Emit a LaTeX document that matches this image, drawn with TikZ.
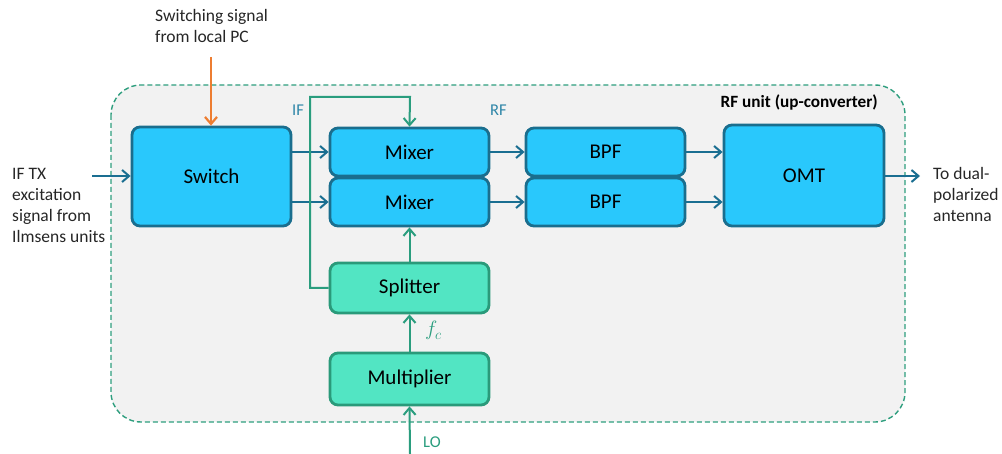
\documentclass[tikz,border=0pt]{standalone}
\usepackage{fontspec}
\setmainfont{Carlito}
\usetikzlibrary{arrows.meta}
\definecolor{unitfill}{HTML}{F2F2F2}
\definecolor{unitedge}{HTML}{2E9E7E}
\definecolor{bluefill}{HTML}{29C8FC}
\definecolor{blueedge}{HTML}{1A6E8E}
\definecolor{mintfill}{HTML}{52E5C3}
\definecolor{mintedge}{HTML}{2A9A7A}
\definecolor{sigblue}{HTML}{1A6E91}
\definecolor{siggreen}{HTML}{2A9D7E}
\definecolor{ctrl}{HTML}{ED7D31}
\definecolor{lbl}{HTML}{2E86A8}
\definecolor{txt}{HTML}{262626}
\tikzset{
  blk/.style={draw=blueedge, fill=bluefill, line width=2.8pt, rounded corners=8pt,
    inner sep=0pt, font=\fontsize{21}{24}\selectfont, text=black},
  lblk/.style={draw=mintedge, fill=mintfill, line width=2.8pt, rounded corners=8pt,
    inner sep=0pt, font=\fontsize{21}{24}\selectfont, text=black},
  tip/.style={-{Straight Barb[length=7pt,width=12pt,line width=2pt]}},
  bsig/.style={tip, draw=sigblue, line width=2pt},
  gsig/.style={tip, draw=siggreen, line width=2pt},
  note/.style={font=\fontsize{17.5}{21}\selectfont, text=txt, align=left, inner sep=0pt},
  tag/.style={font=\fontsize{16.5}{18}\selectfont, inner sep=0pt},
}
\begin{document}
\begin{tikzpicture}[x=1pt, y=-1pt]
\useasboundingbox (0,0) rectangle (1002,454);
% enclosing RF unit
\draw[unitedge, fill=unitfill, dashed, dash pattern=on 5pt off 3pt, line width=1.4pt, rounded corners=30pt]
  (111,85) rectangle (905,422);
\node[font=\fontsize{17.2}{19}\bfseries\selectfont, anchor=base east, inner sep=0pt] (title) at (878,108) {RF unit (up-converter)};

% blocks
\node[blk, minimum width=159pt, minimum height=99pt] (sw) at (211.5,176.5) {Switch};
\node[blk, minimum width=159pt, minimum height=48pt] (mx1) at (409.5,152) {Mixer};
\node[blk, minimum width=159pt, minimum height=48pt] (mx2) at (409.5,202) {Mixer};
\node[blk, minimum width=159pt, minimum height=48pt] (bp1) at (605.5,152) {BPF};
\node[blk, minimum width=159pt, minimum height=48pt] (bp2) at (605.5,202) {BPF};
\node[blk, minimum width=160pt, minimum height=101pt] (omt) at (804,175.5) {OMT};
\node[lblk, minimum width=159pt, minimum height=50pt] (spl) at (409.5,288) {Splitter};
\node[lblk, minimum width=159pt, minimum height=52pt] (mul) at (409.5,379) {Multiplier};

% outside texts (anchored at the baseline of their last line)
\node[note, anchor=base west] (src) at (12,243) {IF TX\\excitation\\signal from\\Ilmsens units};
\node[note, anchor=base west] (pc) at (155,43) {Switching signal\\from local PC};
\node[note, anchor=base west] (ant) at (933,221.5) {To dual-\\polarized\\antenna};
\coordinate (srcend) at (92,176);
\coordinate (pcend) at (211,57);
\coordinate (antend) at (920,176);
\coordinate (loin) at (410,454);

% signal path
\draw[bsig] (srcend) -- (sw.west |- srcend);
\draw[ctrl, line width=2.4pt, -{Straight Barb[length=7pt,width=12pt,line width=2.2pt]}] (pcend) -- (sw.north -| pcend);
\draw[bsig] (sw.east |- mx1) -- (mx1.west);
\draw[bsig] (sw.east |- mx2) -- (mx2.west);
\draw[bsig] (mx1.east) -- (bp1.west);
\draw[bsig] (mx2.east) -- (bp2.west);
\draw[bsig] (bp1.east) -- (omt.west |- bp1);
\draw[bsig] (bp2.east) -- (omt.west |- bp2);
\draw[bsig] (omt.east |- antend) -- (antend);

% local oscillator chain
\draw[gsig] (loin) -- (mul.south);
\draw[gsig] (mul.north) -- (spl.south);
\draw[gsig] (spl.north) -- (mx2.south);
\draw[gsig, rounded corners=0pt] (spl.west) -- (310,288) -- (310,97) -- (410,97) -- (mx1.north);

% labels
\node[tag, text=lbl, anchor=base west] (iflbl) at (292,116) {IF};
\node[tag, text=lbl, anchor=base west] (rflbl) at (490,116) {RF};
\node[tag, text=siggreen, anchor=base west, font=\fontsize{21}{22}\selectfont] (fclbl) at (425,336) {$f_c$};
\node[tag, text=siggreen, anchor=base west] (lolbl) at (423,447) {LO};
\end{tikzpicture}
\end{document}
